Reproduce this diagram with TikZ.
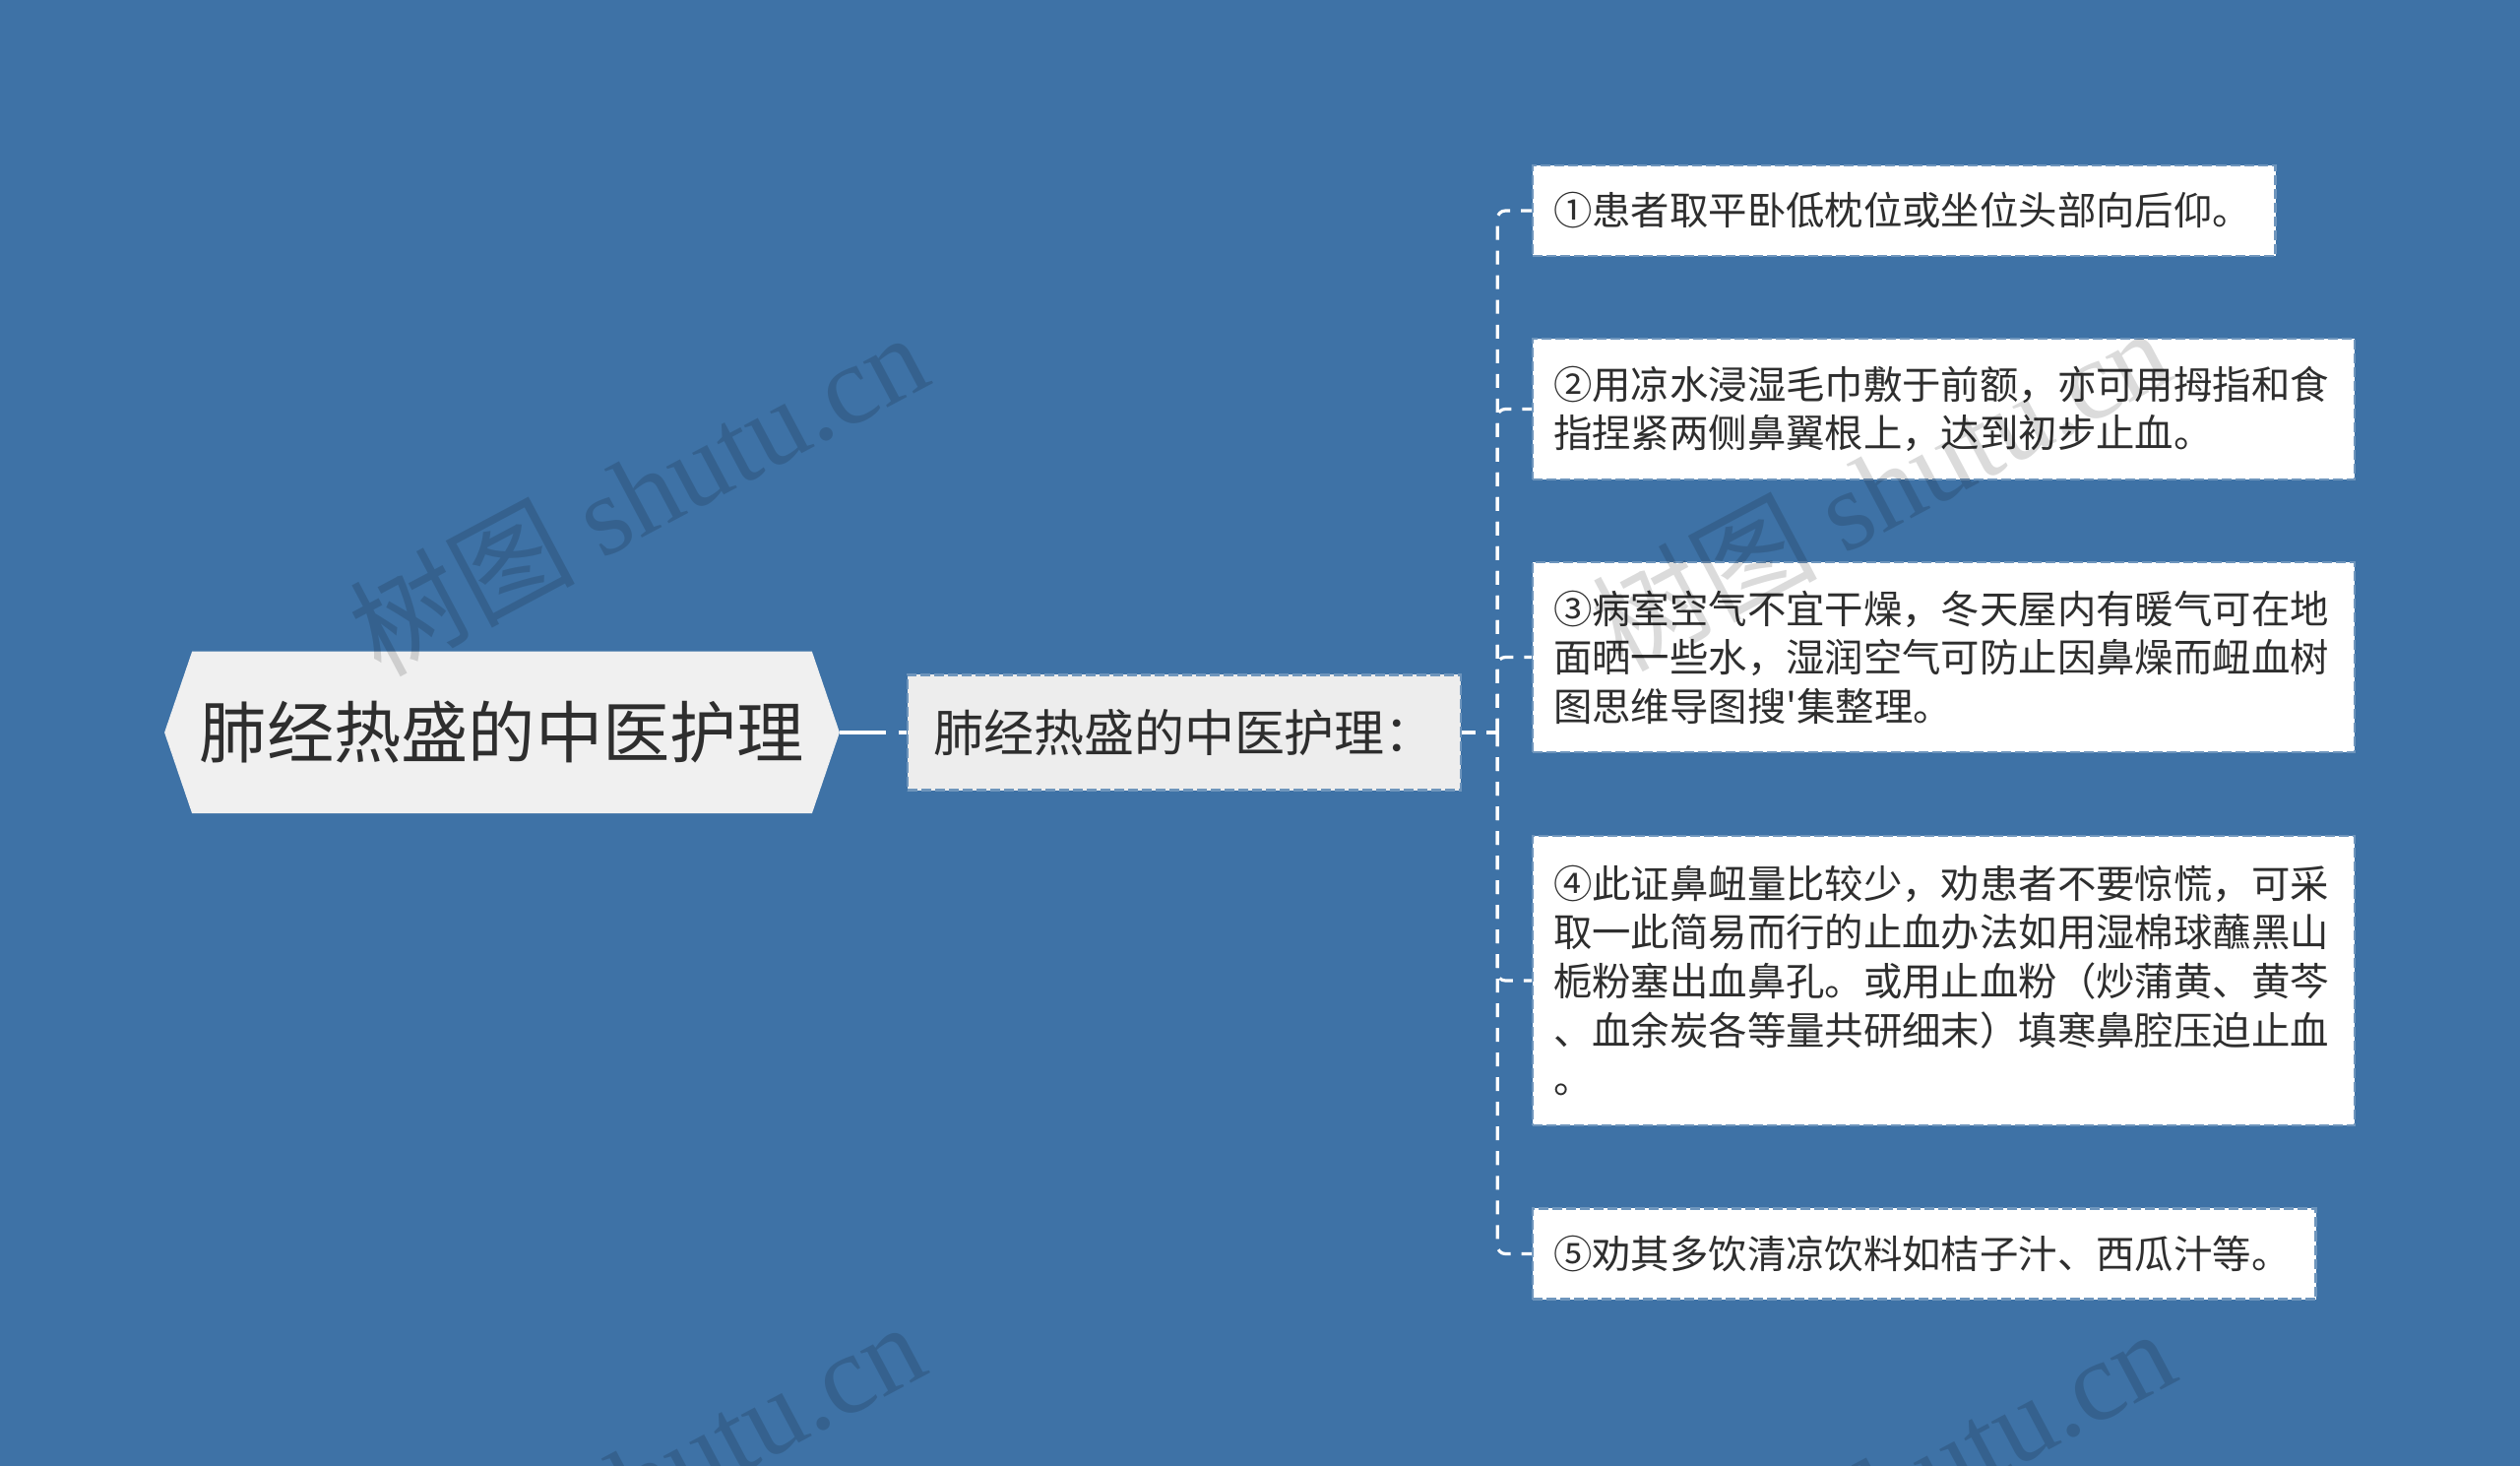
\documentclass[tikz,border=0pt]{standalone}
\usepackage{fontspec}
\setmainfont{Noto Sans CJK SC}
\newfontfamily\wmfont{Liberation Serif}
\usepackage{tikz}
\usetikzlibrary{backgrounds,calc,positioning}
\definecolor{bgblue}{HTML}{3E72A6}
\definecolor{boxgrey}{HTML}{F0F0F0}
\definecolor{topicgrey}{HTML}{EDEDED}
\definecolor{inkgrey}{HTML}{2E2E2E}

\begin{document}
\begin{tikzpicture}[x=0.01cm,y=-0.01cm,
  rootbox/.style={inner sep=0pt,minimum width=6.28cm,minimum height=1.63cm,text=inkgrey,
    font=\fontsize{19.4pt}{23pt}\selectfont},
  topicbox/.style={draw=bgblue!75!white,line width=0.6pt,dash pattern=on 1mm off 0.4mm,
    fill=topicgrey,text=inkgrey,inner sep=0pt,minimum width=5.62cm,minimum height=1.17cm,
    font=\fontsize{14.5pt}{17pt}\selectfont},
  leafbox/.style={draw=bgblue!75!white,line width=0.6pt,dash pattern=on 1mm off 0.4mm,
    fill=white,text=inkgrey,align=left,inner xsep=0.21cm,inner ysep=0pt,anchor=west,
    font=\fontsize{11.2pt}{14.1pt}\selectfont},
  link/.style={white,line width=0.9pt,dash pattern=on 1.4mm off 1.1mm},
  wmtext/.style={rotate=28,text=black,text opacity=0.14,font=\fontsize{32.5pt}{38pt}\selectfont}]
\useasboundingbox (0,0) rectangle (2560,1489);
\begin{scope}[on background layer]
\fill[bgblue] (0,0) rectangle (2560,1489);
\end{scope}

\node[rootbox] (root) at (510,744) {肺经热盛的中医护理};
\begin{scope}[on background layer]
\fill[boxgrey] (root.north west) -- (root.north east) -- ([xshift=0.28cm]root.east)
  -- (root.south east) -- (root.south west) -- ([xshift=-0.28cm]root.west) -- cycle;
\end{scope}
\coordinate (roottip) at ([xshift=0.28cm]root.east);

\node[topicbox] (topic) at (1203,744) {肺经热盛的中医护理：};
\coordinate (hub) at ([xshift=0.36cm]topic.east);

\node[leafbox,text width=7.12cm,minimum height=0.92cm] (leaf1) at (1556,214)
  {①患者取平卧低枕位或坐位头部向后仰。};
\node[leafbox,text width=7.92cm,minimum height=1.43cm] (leaf2) at (1556,415.5)
  {②用凉水浸湿毛巾敷于前额，亦可用拇指和食\\指捏紧两侧鼻翼根上，达到初步止血。};
\node[leafbox,text width=7.92cm,minimum height=1.93cm] (leaf3) at (1556,667.5)
  {③病室空气不宜干燥，冬天屋内有暖气可在地\\面晒一些水，湿润空气可防止因鼻燥而衄血树\\图思维导图搜\textquotesingle 集整理。};
\node[leafbox,text width=7.92cm,minimum height=2.94cm] (leaf4) at (1556,996)
  {④此证鼻衄量比较少，劝患者不要惊慌，可采\\取一此简易而行的止血办法如用湿棉球蘸黑山\\栀粉塞出血鼻孔。或用止血粉（炒蒲黄、黄芩\\、血余炭各等量共研细末）填寒鼻腔压迫止血\\。};
\node[leafbox,text width=7.53cm,minimum height=0.92cm] (leaf5) at (1556,1273.5)
  {⑤劝其多饮清凉饮料如桔子汁、西瓜汁等。};

\draw[white,line width=1.3pt,dash pattern=on 4.7mm off 1.3mm] (roottip) -- (topic.west);
\draw[link] (topic.east) -- (hub);
\foreach \n in {1,...,5}
  \draw[link,rounded corners=0.08cm] (hub) |- (leaf\n.west);

\node[wmtext] (wm1) at (648,500) {树图 {\wmfont shutu.cn}};
\node[wmtext] (wm2) at (1910,495) {树图 {\wmfont shutu.cn}};
\node[wmtext] (wm3) at (645,1505) {树图 {\wmfont shutu.cn}};
\node[wmtext] (wm4) at (1915,1512) {树图 {\wmfont shutu.cn}};
\end{tikzpicture}
\end{document}
